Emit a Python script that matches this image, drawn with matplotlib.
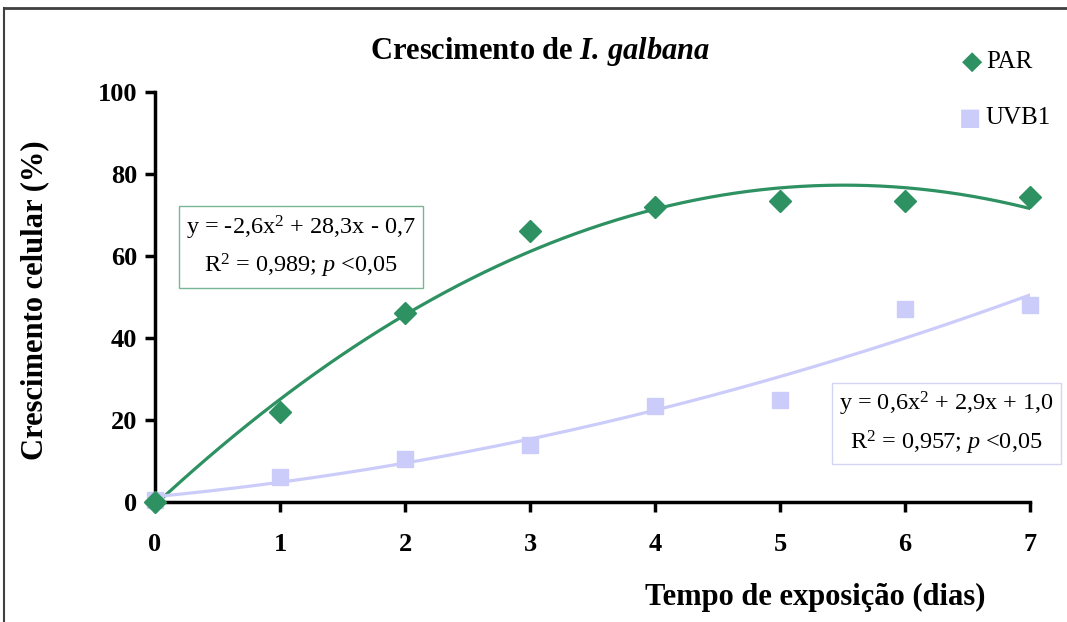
import numpy as np
import matplotlib
matplotlib.use('Agg')
import matplotlib.pyplot as plt
from matplotlib.lines import Line2D

plt.rcParams['font.family'] = 'Liberation Serif'
plt.rcParams['mathtext.fontset'] = 'custom'
plt.rcParams['mathtext.rm'] = 'Liberation Serif'
plt.rcParams['mathtext.it'] = 'Liberation Serif:italic'
plt.rcParams['mathtext.bf'] = 'Liberation Serif:bold'
plt.rcParams['mathtext.bfit'] = 'Liberation Serif:italic:bold'

# data
dias = [0, 1, 2, 3, 4, 5, 6, 7]
par = [0, 22, 46, 66, 72, 73.5, 73.5, 74.5]
uvb1 = [0.5, 6, 10.5, 14, 23.5, 25, 47, 48]

c_par = '#2e9162'
c_uvb = '#ccccfa'

fig = plt.figure(figsize=(10.67, 6.22), dpi=100)
ax = fig.add_axes([0.1453, 0.1929, 0.82, 0.659])

# polynomial trend lines (order 2) like the spreadsheet
xs = np.linspace(0, 7, 200)
for serie, cor in [(par, c_par), (uvb1, c_uvb)]:
    coef = np.polyfit(dias, serie, 2)
    ax.plot(xs, np.polyval(coef, xs), color=cor, lw=2.3, zorder=2)

ax.plot(dias, uvb1, 's', color=c_uvb, ms=11, zorder=3, clip_on=False)
ax.plot(dias, par, 'D', color=c_par, ms=11, zorder=4, clip_on=False)

ax.set_xlim(0, 7)
ax.set_ylim(0, 100)
ax.set_xticks(range(8))
ax.set_yticks(range(0, 101, 20))
for s in ['top', 'right']:
    ax.spines[s].set_visible(False)
for s in ['left', 'bottom']:
    ax.spines[s].set_linewidth(2.5)
ax.tick_params(axis='both', width=2.5, length=7, labelsize=19)
ax.tick_params(axis='x', pad=15)
ax.tick_params(axis='y', pad=6)
for lab in ax.get_xticklabels() + ax.get_yticklabels():
    lab.set_fontweight('bold')

fig.text(0.033, 0.518, 'Crescimento celular (%)', fontsize=22, fontweight='bold',
         rotation=90, ha='center', va='center')
fig.text(0.764, 0.039, 'Tempo de exposição (dias)', fontsize=22, fontweight='bold',
         ha='center', va='center')
fig.text(0.506, 0.918, r'$\mathbf{Crescimento\ de\ }\mathbfit{I.}\,\mathbfit{galbana}$',
         fontsize=22, ha='center', va='center')

# legend
fig.text(0.911, 0.901, '\u25c6', color=c_par, fontsize=19, ha='center', va='center',
         family='DejaVu Sans')
fig.text(0.924, 0.901, 'PAR', fontsize=18, ha='left', va='center')
fig.text(0.909, 0.810, '\u25a0', color=c_uvb, fontsize=17, ha='center', va='center',
         family='DejaVu Sans')
fig.text(0.924, 0.810, 'UVB1', fontsize=18, ha='left', va='center')

# equation boxes
fig.text(0.282, 0.603, 'y = -2,6x$^2$ + 28,3x - 0,7\nR$^2$ = 0,989; $p$ <0,05',
         fontsize=17.5, ha='center', va='center', linespacing=1.5,
         bbox=dict(boxstyle='square,pad=0.3', fc='white', ec='#79b696', lw=1))
fig.text(0.887, 0.319, 'y = 0,6x$^2$ + 2,9x + 1,0\nR$^2$ = 0,957; $p$ <0,05',
         fontsize=17.5, ha='center', va='center', linespacing=1.5,
         bbox=dict(boxstyle='square,pad=0.3', fc='white', ec='#d4d4f4', lw=1))

# outer frame (top and left edges visible)
fig.add_artist(Line2D([0.004, 1.0], [0.987, 0.987], color='#404040', lw=2))
fig.add_artist(Line2D([0.004, 0.004], [0.0, 0.987], color='#404040', lw=1.5))

fig.savefig('out.png', dpi=100)
